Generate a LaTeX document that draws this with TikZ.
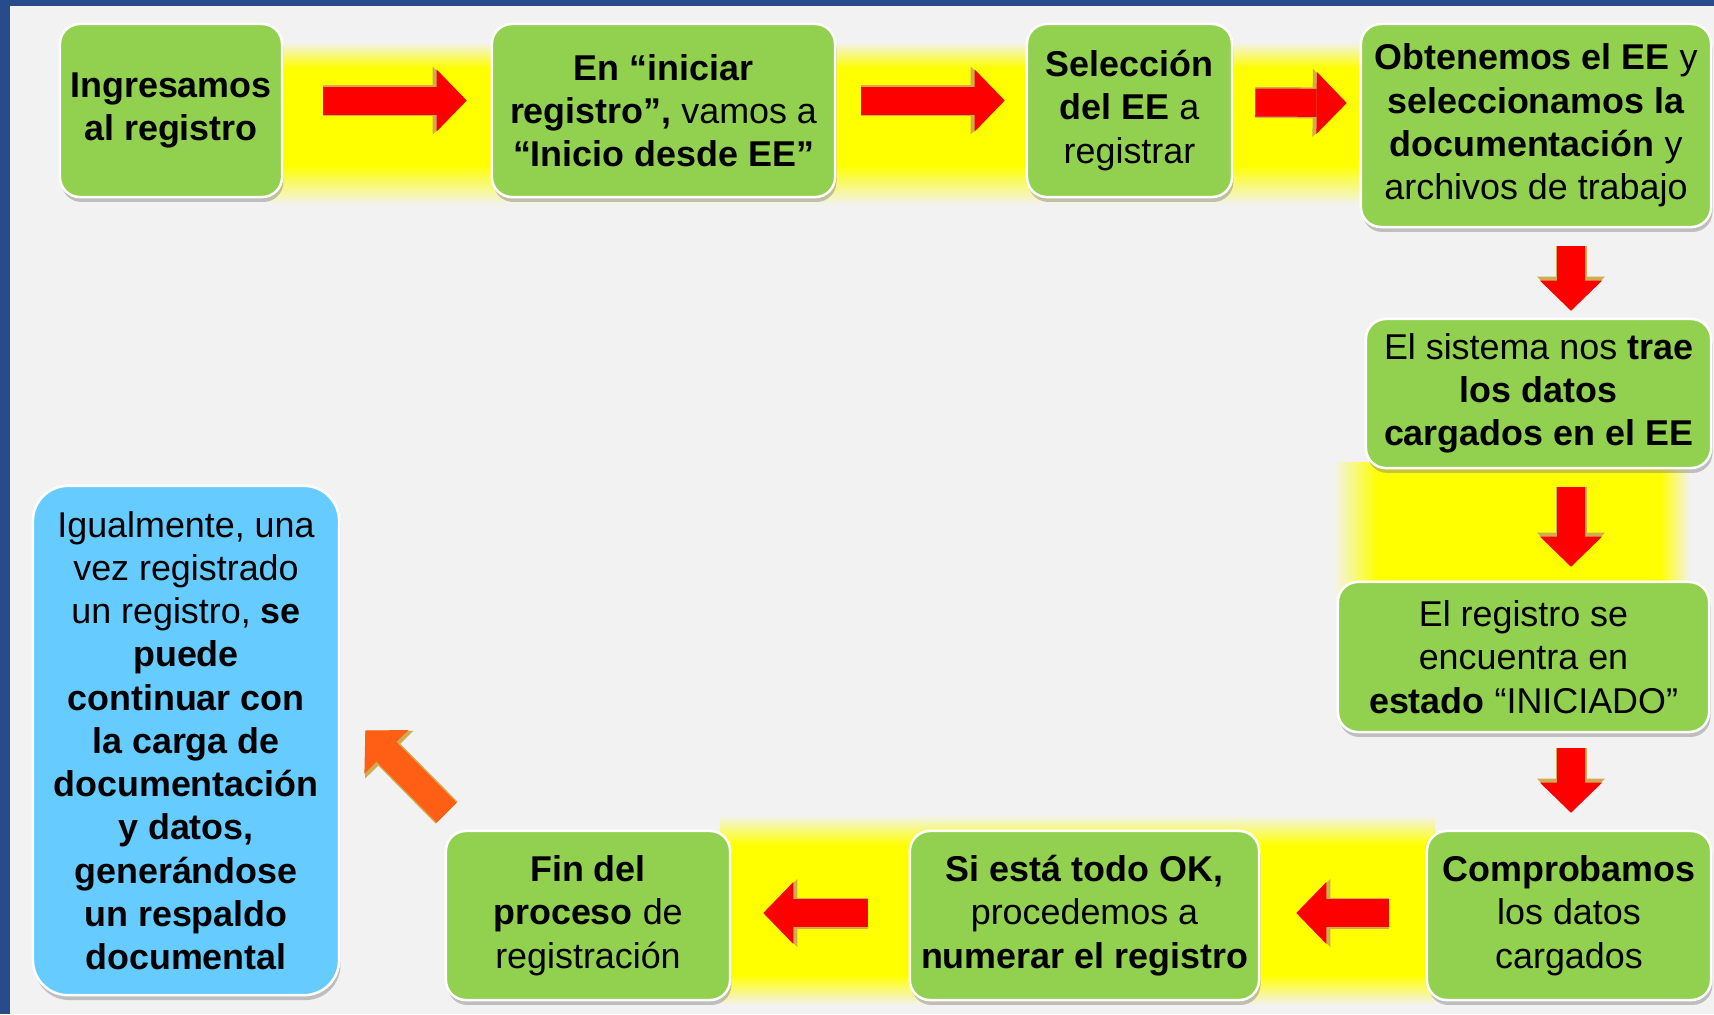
\documentclass[tikz,border=0pt]{standalone}
\usepackage{fontspec}
\setmainfont{Liberation Sans}
\usetikzlibrary{arrows.meta,shadows}

\definecolor{fondo}{HTML}{F2F2F2}
\definecolor{marco}{HTML}{284B8C}
\definecolor{verde}{HTML}{92D050}
\definecolor{celeste}{HTML}{66CCFF}
\definecolor{amarillo}{HTML}{FFFF00}
\definecolor{rojo}{HTML}{FF0000}
\definecolor{naranja}{HTML}{FF5F14}
\definecolor{dorado}{HTML}{D2AA50}

\begin{document}
\begin{tikzpicture}[x=0.01cm, y=-0.01cm,
		paso/.style={draw=white, line width=0.025cm, fill=verde, rounded corners=0.2cm,
			inner sep=0pt, align=center, font=\fontsize{10.2}{12.3}\selectfont,
			drop shadow={shadow xshift=0.4pt, shadow yshift=-1.4pt, opacity=0.45}},
		nota/.style={paso, fill=celeste, rounded corners=0.35cm},
		flecha/.style={line width=0.28cm, rojo, -{Triangle[length=0.3cm, width=0.62cm, line width=0pt]},
			preaction={draw=dorado, line width=0.31cm, -{Triangle[length=0.34cm, width=0.68cm, line width=0pt]}}}]
	\useasboundingbox (0,0) rectangle (1714,1014);

	%%fondo y marco
	\fill[fondo] (0,0) rectangle (1714,1014);
	\fill[marco] (0,0) rectangle (10,1014);
	\fill[marco] (0,0) rectangle (1714,6);

	%%franja de arriba
	\shade[top color=fondo, bottom color=amarillo] (270,42) rectangle (1370,68);
	\fill[amarillo] (270,68) rectangle (1370,165);
	\shade[top color=amarillo, bottom color=fondo] (270,165) rectangle (1370,205);
	%%franja de la derecha
	\shade[left color=fondo, right color=amarillo] (1333,462) rectangle (1377,592);
	\fill[amarillo] (1377,462) rectangle (1660,592);
	\shade[left color=amarillo, right color=fondo] (1660,462) rectangle (1690,592);
	%%franja de abajo
	\shade[top color=fondo, bottom color=amarillo] (720,815) rectangle (1435,845);
	\fill[amarillo] (720,845) rectangle (1435,975);
	\shade[top color=amarillo, bottom color=fondo] (720,975) rectangle (1435,1005);

	%%los pasos
	\node[paso, minimum width=2.22cm, minimum height=1.73cm] (ingreso) at (171,110.5)
		{\textbf{Ingresamos}\\\textbf{al registro}};
	\node[paso, minimum width=3.43cm, minimum height=1.73cm] (iniciar) at (663.5,110.5)
		{\textbf{En “iniciar}\\\textbf{registro”,} vamos a\\\textbf{“Inicio desde EE”}};
	\node[paso, minimum width=2.05cm, minimum height=1.73cm] (seleccion) at (1129.5,110.5)
		{\textbf{Selección}\\\textbf{del EE} a\\registrar};
	\node[paso, minimum width=3.5cm, minimum height=2.03cm] (obtener) at (1536,125.5)
		{\textbf{Obtenemos el EE} y\\\textbf{seleccionamos la}\\\textbf{documentación} y\\archivos de trabajo};
	\node[paso, minimum width=3.45cm, minimum height=1.49cm] (sistema) at (1538.5,393.5)
		{El sistema nos \textbf{trae}\\\textbf{los datos}\\\textbf{cargados en el EE}};
	\node[paso, minimum width=3.71cm, minimum height=1.5cm] (iniciado) at (1523.5,657)
		{El registro se\\encuentra en\\\textbf{estado} “INICIADO”};
	\node[paso, minimum width=2.84cm, minimum height=1.69cm] (comprobar) at (1569,915.5)
		{\textbf{Comprobamos}\\los datos\\cargados};
	\node[paso, minimum width=3.49cm, minimum height=1.69cm] (numerar) at (1084.5,915.5)
		{\textbf{Si está todo OK,}\\procedemos a\\\textbf{numerar el registro}};
	\node[paso, minimum width=2.84cm, minimum height=1.69cm] (fin) at (588,915.5)
		{\textbf{Fin del}\\\textbf{proceso} de\\registración};
	\node[nota, minimum width=3.06cm, minimum height=5.09cm] (respaldo) at (186,740.5)
		{Igualmente, una\\vez registrado\\un registro, \textbf{se}\\\textbf{puede}\\\textbf{continuar con}\\
		\textbf{la carga de}\\\textbf{documentación}\\\textbf{y datos,}\\\textbf{generándose}\\
		\textbf{un respaldo}\\\textbf{documental}};

	%%flechas
	\draw[flecha] ([shift={(40,-10)}]ingreso.east) -- ([shift={(-24,-10)}]iniciar.west);
	\draw[flecha] ([shift={(25,-10)}]iniciar.east) -- ([shift={(-21,-10)}]seleccion.west);
	\draw[flecha] ([shift={(22,-8)}]seleccion.east) -- ([shift={(-13,-22.5)}]obtener.west);
	\draw[flecha] ([shift={(35,18)}]obtener.south) -- ([shift={(32.5,-7)}]sistema.north);
	\draw[flecha] ([shift={(32.5,18)}]sistema.south) -- ([shift={(47.5,-14)}]iniciado.north);
	\draw[flecha] ([shift={(47.5,15)}]iniciado.south) -- ([shift={(2,-17)}]comprobar.north);
	\draw[flecha] ([shift={(-37,-2.5)}]comprobar.west) -- ([shift={(36,-2.5)}]numerar.east);
	\draw[flecha] ([shift={(-41,-2.5)}]numerar.west) -- ([shift={(32,-2.5)}]fin.east);
	\draw[flecha, naranja] ([shift={(2,-17)}]fin.north west) -- ([shift={(25,-10)}]respaldo.east);
\end{tikzpicture}
\end{document}
